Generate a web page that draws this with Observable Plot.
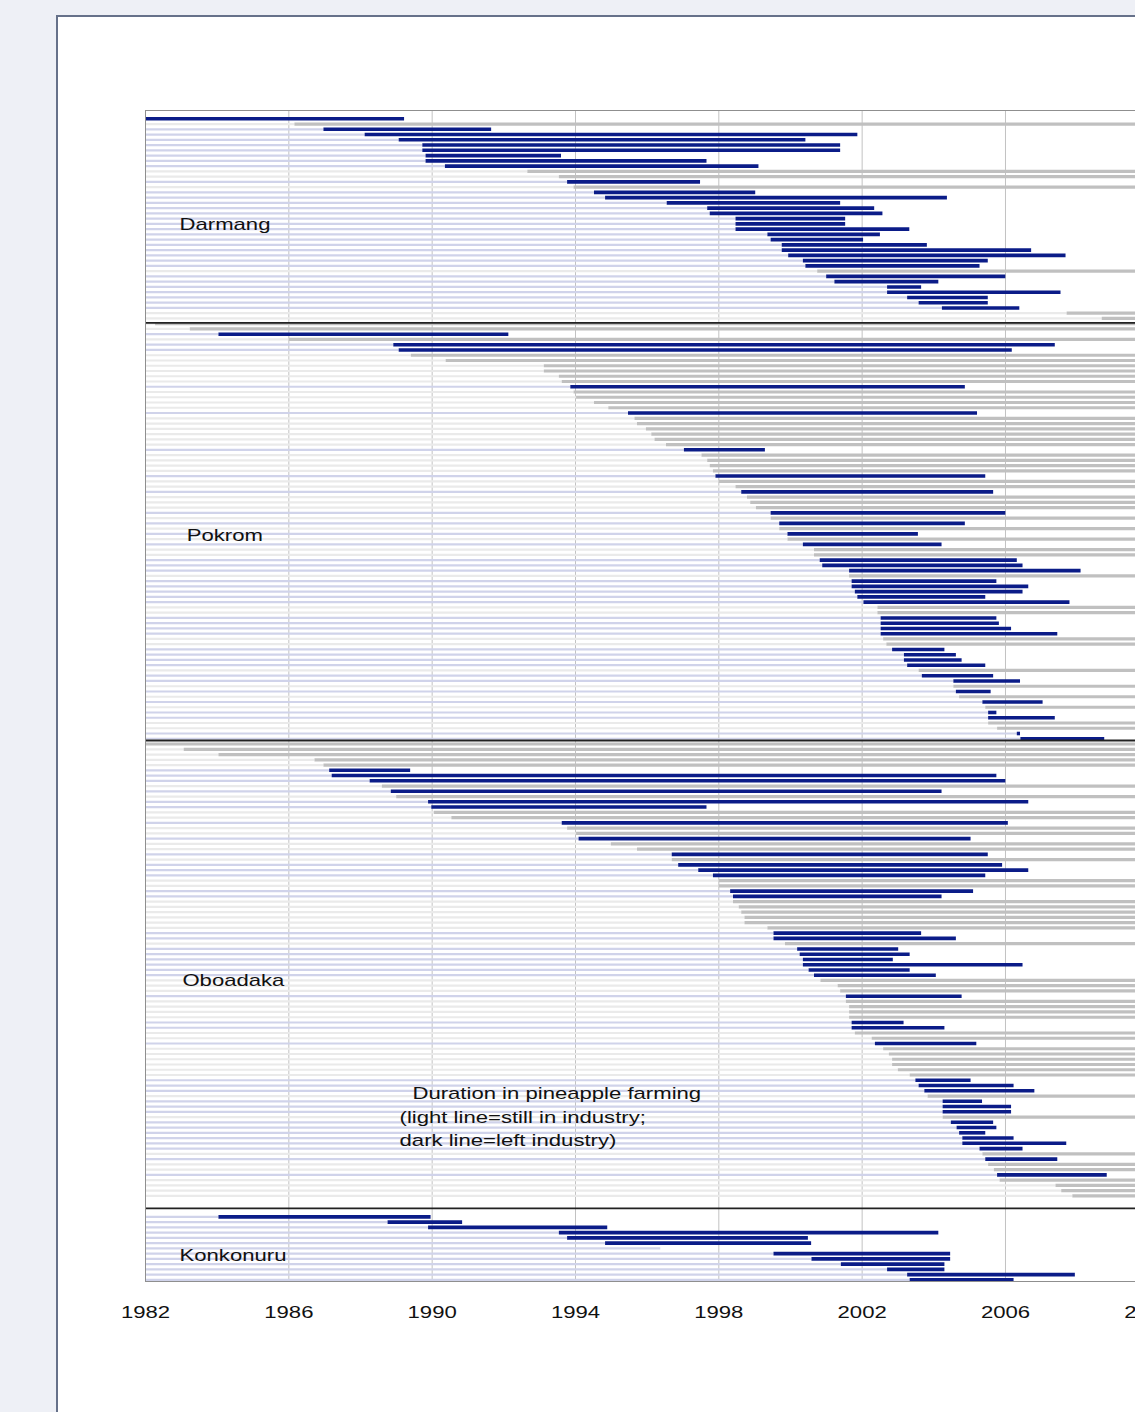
<!DOCTYPE html>
<html><head><meta charset="utf-8">
<script src="https://cdn.jsdelivr.net/npm/d3@7"></script>
<script src="https://cdn.jsdelivr.net/npm/@observablehq/plot@0.6"></script>
<style>
html,body{margin:0;padding:0;width:1135px;height:1412px;overflow:hidden;background:#eef0f6;}
#panel{position:absolute;left:56px;top:15px;width:1200px;height:1500px;background:#fff;border:2px solid #66718a;box-sizing:border-box;}
#chart{position:absolute;left:0;top:0;}
#chart svg{max-width:none !important;background:transparent;}
</style></head><body><div id="panel"></div><div id="chart"></div>
<script>
// ---- data (years; end = null means still in the industry) ----
const groupNames = ["Darmang", "Pokrom", "Oboadaka", "Konkonuru"];
const groupFirstRow = [0, 39, 119, 209];
const groupBreaks = [38.83, 118.33, 207.4];
const labelYear = [1982.95, 1983.15, 1983.03, 1982.95];
const labelRow = [20.1, 79.3, 164.0, 216.4];
const noteLines = ["Duration in pineapple farming", "(light line=still in industry;", "dark line=left industry)"];
const noteYear = [1989.45, 1989.09, 1989.09];
const noteRow = [185.5, 190.1, 194.5];
const tickYears = [1982, 1986, 1990, 1994, 1998, 2002, 2006, 2010];

const darmangStart = [1982.0,1986.17,1986.98,1988.13,1989.08,1989.74,1989.74,1989.83,1989.83,1990.37,1992.67,1993.55,1993.78,1993.96,1994.53,1994.84,1996.56,1997.69,1997.76,1998.48,1998.48,1998.48,1999.37,1999.46,1999.77,1999.77,1999.95,2000.36,2000.43,2000.76,2001.01,2001.24,2002.71,2002.71,2003.27,2003.59,2004.24,2007.72,2008.70];
const darmangEnd = [1989.23,null,1991.66,2001.88,2000.43,2001.40,2001.40,1993.61,1997.67,1999.12,null,null,1997.49,null,1999.03,2004.38,2001.40,2002.35,2002.58,2001.54,2001.54,2003.33,2002.51,2002.04,2003.82,2006.73,2007.69,2005.52,2005.29,null,2006.01,2004.14,2003.66,2007.55,2005.52,2005.52,2006.40,null,null];

const pokromStart = [1982.28,1983.25,1984.05,1986.01,1988.93,1989.08,1989.42,1990.39,1993.13,1993.13,1993.55,1993.63,1993.87,1993.96,1994.03,1994.53,1994.93,1995.48,1995.66,1995.73,1995.98,1996.13,1996.22,1996.54,1997.04,1997.53,1997.69,1997.76,1997.85,1997.92,1998.01,1998.48,1998.64,1998.80,1998.89,1999.05,1999.46,1999.46,1999.70,1999.70,1999.93,1999.93,2000.36,2000.67,2000.67,2000.83,2000.90,2001.65,2001.65,2001.72,2001.72,2001.81,2001.88,2002.05,2002.44,2002.44,2002.53,2002.53,2002.53,2002.53,2002.60,2002.69,2002.85,2003.18,2003.18,2003.27,2003.59,2003.68,2004.56,2004.56,2004.63,2004.72,2005.37,2005.45,2005.53,2005.53,2005.53,2005.78,2006.33,2006.43];
const pokromEnd = [null,null,1992.14,null,2007.39,2006.19,null,null,null,null,null,null,2004.88,null,null,null,null,2005.22,null,null,null,null,null,null,1999.30,null,null,null,null,2005.45,null,null,2005.67,null,null,null,2006.01,null,2004.88,null,2003.57,null,2004.23,null,null,2006.33,2006.49,2008.11,null,2005.76,2006.65,2006.49,2005.45,2007.80,null,null,2005.76,2005.83,2006.17,2007.46,null,null,2004.31,2004.63,2004.79,2005.45,null,2005.67,2006.42,null,2005.60,null,2007.05,null,2005.76,2007.39,null,null,2006.42,2008.77];

const oboadakaStart = [1982.00,1983.08,1984.05,1986.73,1986.98,1987.14,1987.21,1988.27,1988.61,1988.86,1989.01,1989.90,1989.99,1990.06,1990.55,1993.63,1993.78,1994.03,1994.10,1995.00,1995.73,1996.70,1996.70,1996.88,1997.44,1997.85,1998.01,1998.01,1998.33,1998.41,1998.41,1998.57,1998.64,1998.73,1998.73,1999.37,1999.54,1999.54,1999.86,2000.20,2000.27,2000.36,2000.36,2000.52,2000.67,2000.85,2001.33,2001.40,2001.56,2001.56,2001.65,2001.65,2001.65,2001.72,2001.72,2001.81,2002.28,2002.37,2002.60,2002.76,2002.85,2002.85,2003.01,2003.34,2003.50,2003.59,2003.75,2003.84,2004.26,2004.26,2004.26,2004.26,2004.49,2004.65,2004.72,2004.81,2004.81,2005.29,2005.37,2005.45,2005.53,2005.69,2005.78,2005.85,2007.41,2007.57,2007.88];
const oboadakaEnd = [null,null,null,null,null,1989.40,2005.76,2006.01,null,2004.23,null,2006.65,1997.67,null,null,2006.08,null,null,2005.04,null,null,2005.52,null,2005.92,2006.65,2005.45,null,null,2005.11,2004.23,null,null,null,null,null,null,2003.66,2004.63,null,2003.02,2003.34,2002.87,2006.49,2003.34,2004.07,null,null,null,2004.79,null,null,null,null,2003.17,2004.31,null,null,2005.20,null,null,null,null,null,null,2005.04,2006.24,2006.82,null,2005.36,2006.17,2006.17,null,2005.67,2005.76,2005.45,2006.24,2007.71,2006.49,null,2007.46,null,null,2008.84,null,null,null,null];

const konkonuruStart = [1984.05,1988.77,1989.90,1993.55,1993.78,1994.84,1996.38,1999.54,2000.60,2001.42,2002.71,2003.27,2003.34];
const konkonuruEnd = [1989.97,1990.85,1994.90,2004.14,2000.50,2000.59,1996.38,2004.47,2004.47,2004.31,2004.31,2007.95,2006.24];

// ---- build table ----
const starts = [darmangStart, pokromStart, oboadakaStart, konkonuruStart];
const ends = [darmangEnd, pokromEnd, oboadakaEnd, konkonuruEnd];
const rows = [];
starts.forEach((s, g) => s.forEach((v, i) => rows.push({
  group: groupNames[g], row: groupFirstRow[g] + i, start: v, end: ends[g][i], left: ends[g][i] != null
})));
const stayRows = rows.filter(d => !d.left);
const leftRows = rows.filter(d => d.left);
const labels = groupNames.map((n, i) => ({text: n, x: labelYear[i], y: labelRow[i]}));
const notes = noteLines.map((n, i) => ({text: n, x: noteYear[i], y: noteRow[i]}));
const xMin = tickYears[0], xMax = tickYears[tickYears.length - 1];

const chart = Plot.plot({
  width: 1200, height: 1340,
  marginLeft: 145, marginRight: 51.7, marginTop: 110, marginBottom: 59,
  style: {background: "transparent", fontFamily: "'Liberation Sans', Arial, sans-serif", fontSize: "17px", color: "#111"},
  x: {domain: [xMin, xMax], ticks: tickYears, tickFormat: d => String(d), tickSize: 0, tickPadding: 24, label: null},
  y: {domain: [-1.58, 221.3], range: [110, 1281], axis: null},
  marks: [
    Plot.ruleX(tickYears, {stroke: "#c2c2c2", strokeWidth: 1}),
    Plot.ruleY(rows, {y: "row", x1: xMin, x2: "start", stroke: d => d.left ? "#d0d3ea" : "#eaeaea", strokeWidth: 2.2}),
    Plot.ruleY(stayRows, {y: "row", x1: "start", x2: xMax, stroke: "#c0c0c0", strokeWidth: 3.2}),
    Plot.ruleY(leftRows, {y: "row", x1: "start", x2: "end", stroke: "#0b1c88", strokeWidth: 3.6}),
    Plot.ruleY(groupBreaks, {stroke: "#222", strokeWidth: 1.8}),
    Plot.frame({stroke: "#8f8f8f"}),
    Plot.text(labels, {x: "x", y: "y", text: "text", textAnchor: "start", fill: "#111"}),
    Plot.text(notes, {x: "x", y: "y", text: "text", textAnchor: "start", fill: "#111"})
  ]
});
chart.style.maxWidth = "none";
document.getElementById("chart").appendChild(chart);
d3.select(chart).selectAll("text").each(function() {
  const len = this.getComputedTextLength();
  if (len > 0) {
    this.setAttribute("textLength", (len * 1.3).toFixed(1));
    this.setAttribute("lengthAdjust", "spacingAndGlyphs");
  }
});
</script></body></html>
